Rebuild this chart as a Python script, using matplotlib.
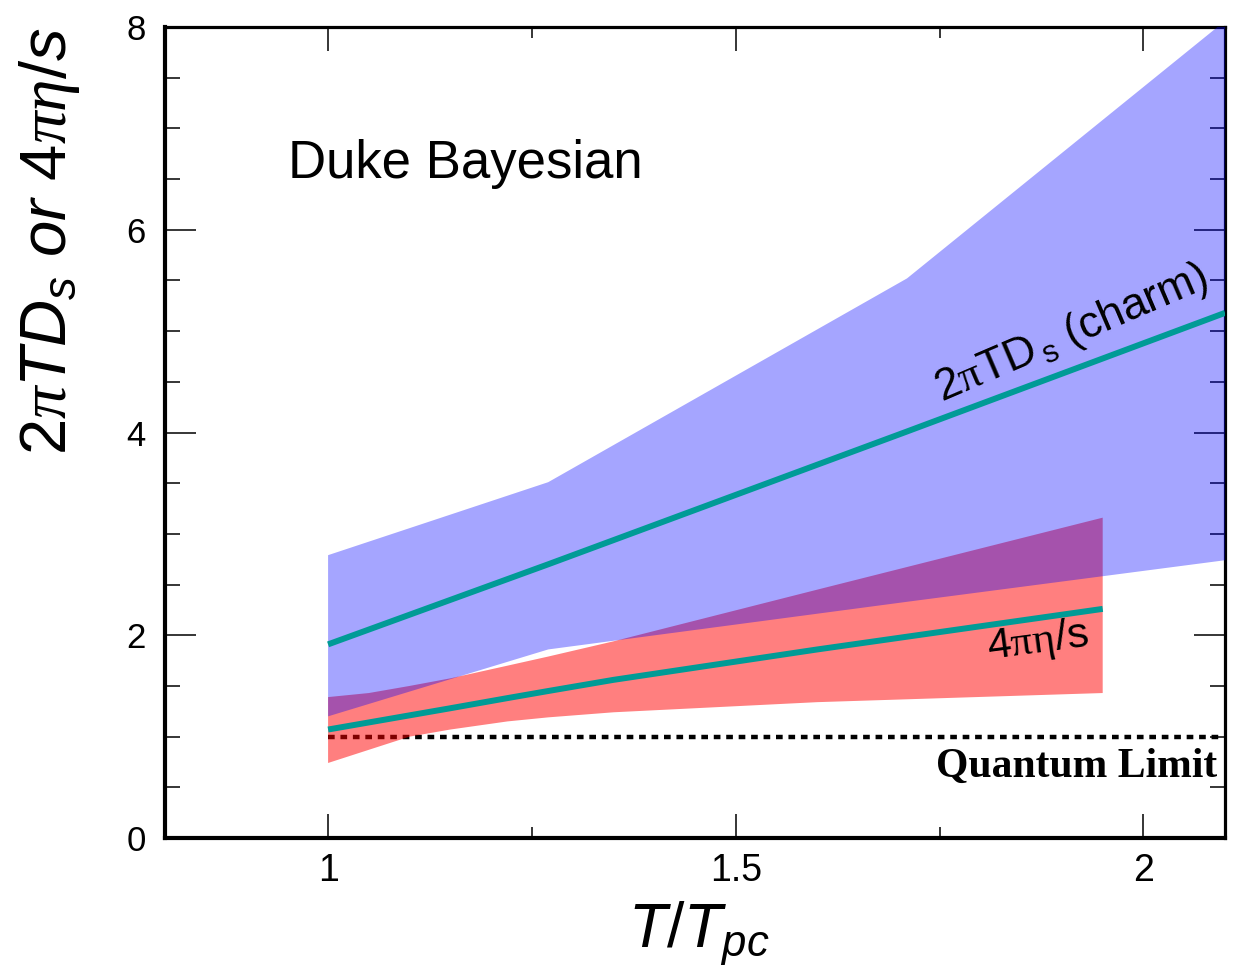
import matplotlib
matplotlib.use("Agg")
import matplotlib.pyplot as plt
from matplotlib.ticker import MultipleLocator, FixedLocator

plt.rcParams['font.family'] = ['Liberation Sans', 'DejaVu Sans']
plt.rcParams['mathtext.fontset'] = 'custom'
plt.rcParams['mathtext.rm'] = 'Liberation Sans'
plt.rcParams['mathtext.it'] = 'Liberation Sans:italic'
plt.rcParams['mathtext.tt'] = 'Liberation Serif'
plt.rcParams['mathtext.sf'] = 'Liberation Serif:italic'

# ---- data ----
T_ds = [1.0, 1.27, 1.71, 2.1]
ds_upper = [2.79, 3.51, 5.52, 8.06]
ds_lower = [1.20, 1.86, 2.33, 2.74]
ds_mean = [1.91, 2.70, 4.01, 5.18]

T_eta = [1.0, 1.05, 1.1, 1.15, 1.22, 1.27, 1.35, 1.6, 1.95]
eta_upper = [1.39, 1.43, 1.50, 1.575, 1.70, 1.79, 1.94, 2.45, 3.16]
eta_lower = [0.74, 0.87, 1.00, 1.07, 1.15, 1.19, 1.24, 1.34, 1.43]
eta_mean = [1.07, 1.14, 1.21, 1.28, 1.38, 1.45, 1.56, 1.86, 2.26]

quantum_x = [1.0, 2.1]
quantum_y = [1.0, 1.0]

x_ticks = [1, 1.5, 2]
x_ticklabels = ['1', '1.5', '2']
y_ticks = [0, 2, 4, 6, 8]
y_ticklabels = ['0', '2', '4', '6', '8']

teal = '#009b96'

fig = plt.figure(figsize=(12.41, 9.68), dpi=100)
ax = fig.add_axes([165/1241, 1-838/968, (1225-165)/1241, (838-27)/968])
ax.set_xlim(0.8, 2.1)
ax.set_ylim(0, 8)

ax.plot(quantum_x, quantum_y, color='black', lw=3.2,
        linestyle=(0, (1.5, 1.3)), dash_capstyle='butt', zorder=1.6)

ax.fill_between(T_eta, eta_lower, eta_upper, facecolor='red', alpha=0.5,
                edgecolor='none', linewidth=0, zorder=2)
ax.fill_between(T_ds, ds_lower, ds_upper, facecolor='blue', alpha=0.353,
                edgecolor='none', linewidth=0, zorder=3)

ax.plot(T_ds, ds_mean, color=teal, lw=4.3, zorder=4, solid_capstyle='butt')
ax.plot(T_eta, eta_mean, color=teal, lw=4.3, zorder=4, solid_capstyle='butt')

# ticks
ax.xaxis.set_major_locator(FixedLocator(x_ticks))
ax.set_xticklabels(x_ticklabels)
ax.xaxis.set_minor_locator(MultipleLocator(0.25))
ax.yaxis.set_major_locator(FixedLocator(y_ticks))
ax.set_yticklabels(y_ticklabels)
ax.yaxis.set_minor_locator(MultipleLocator(0.5))
ax.tick_params(which='both', direction='in', top=True, right=True,
               width=1.1, colors='black')
ax.tick_params(axis='x', which='major', length=17, pad=11, labelsize=27)
ax.tick_params(axis='x', which='minor', length=8)
ax.tick_params(axis='y', which='major', length=22, pad=14, labelsize=25)
ax.tick_params(axis='y', which='minor', length=11)

for s in ['left', 'bottom']:
    ax.spines[s].set_linewidth(3.0)
for s in ['top', 'right']:
    ax.spines[s].set_linewidth(2.3)

# labels
fig.text(699/1241, 1-947/968, r'$T/T_{pc}$', fontsize=45, ha='center', va='baseline')
fig.text(50/1241, 1-241/968,
         r'$\mathit{2}\mathsf{\pi}\mathit{TD}_{\mathit{s}}\mathit{\ or\ 4}\mathsf{\pi\eta}\mathit{/s}$',
         fontsize=47, rotation=90, ha='center', va='center')

ax.text(0.951, 6.51, 'Duke Bayesian', fontsize=38, ha='left', va='baseline', zorder=6)
ax.text(1.912, 4.98, r'$2\mathtt{\pi}\mathrm{TD}_{\,\mathrm{s}}\ \mathrm{(charm)}$', fontsize=32,
        rotation=23.2, ha='center', va='center', zorder=6, rotation_mode='anchor')
ax.text(1.87, 1.94, r'$4\mathtt{\pi\eta}\mathrm{/s}$', fontsize=31,
        rotation=7.5, ha='center', va='center', zorder=6, rotation_mode='anchor')
ax.text(2.09, 0.60, 'Quantum Limit', fontsize=30, fontfamily='Liberation Serif',
        fontweight='bold', ha='right', va='baseline', zorder=6)

fig.savefig('out.png', dpi=100)
